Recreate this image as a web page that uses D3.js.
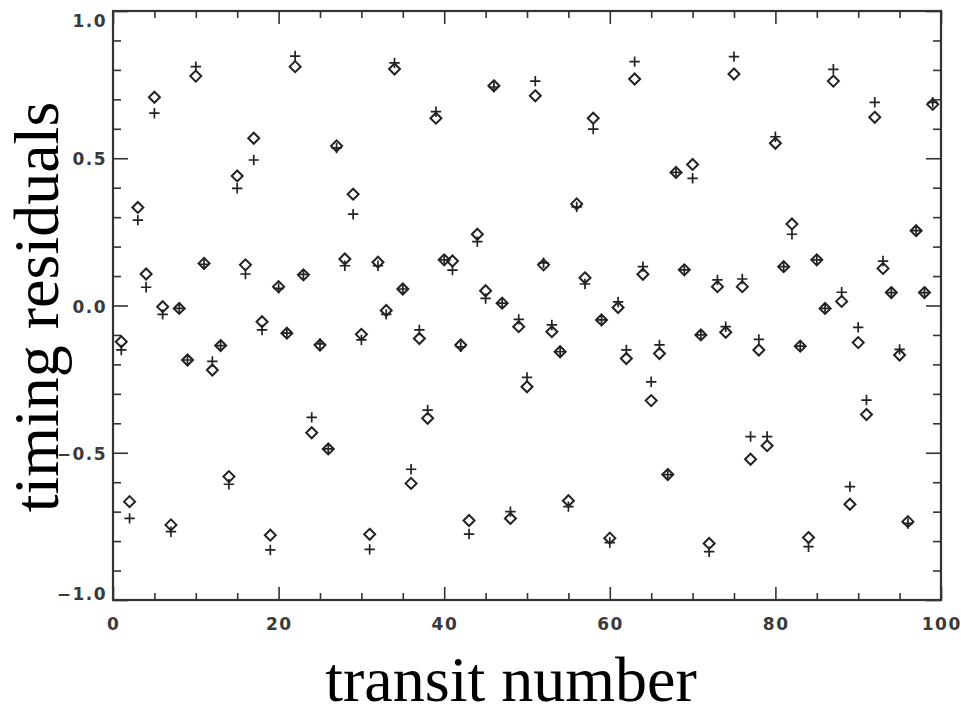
<!DOCTYPE html>
<html>
<head>
<meta charset="utf-8">
<script src="https://cdn.jsdelivr.net/npm/d3@7/dist/d3.min.js"></script>
<style>
  html, body { margin: 0; padding: 0; background: #fff; }
  svg { display: block; }
  .tick-label { font-family: "DejaVu Sans", sans-serif; font-size: 17px; font-weight: bold; fill: #3a3a3a; letter-spacing: 1.5px; }
  .title { font-family: "Liberation Serif", "Times New Roman", serif; font-size: 64px; fill: #000; }
</style>
</head>
<body>
<script>
// Transit index for each measured transit
const transits = d3.range(1, 100);

// Residuals from the first fit (diamonds)
const residualsA = [
  -0.123, -0.666, 0.333, 0.107, 0.707, -0.004, -0.745, -0.010, -0.185, 0.779,
  0.143, -0.219, -0.136, -0.581, 0.440, 0.138, 0.568, -0.055, -0.780, 0.064,
  -0.094, 0.811, 0.104, -0.432, -0.134, -0.487, 0.542, 0.158, 0.378, -0.098,
  -0.777, 0.147, -0.017, 0.803, 0.056, -0.604, -0.112, -0.383, 0.636, 0.155,
  0.151, -0.134, -0.730, 0.242, 0.050, 0.746, 0.008, -0.723, -0.072, -0.276,
  0.712, 0.138, -0.089, -0.157, -0.663, 0.345, 0.094, 0.636, -0.049, -0.790,
  -0.007, -0.180, 0.769, 0.106, -0.323, -0.163, -0.574, 0.452, 0.121, 0.479,
  -0.100, -0.808, 0.064, -0.091, 0.786, 0.064, -0.522, -0.151, -0.476, 0.551,
  0.132, 0.277, -0.138, -0.788, 0.155, -0.010, 0.762, 0.014, -0.675, -0.126,
  -0.370, 0.639, 0.126, 0.044, -0.168, -0.734, 0.254, 0.044, 0.683
];

// Residuals from the second fit (plus signs)
const residualsB = [
  -0.151, -0.723, 0.290, 0.062, 0.653, -0.030, -0.768, -0.010, -0.185, 0.811,
  0.140, -0.190, -0.136, -0.607, 0.398, 0.107, 0.494, -0.083, -0.830, 0.058,
  -0.094, 0.847, 0.106, -0.380, -0.130, -0.487, 0.535, 0.135, 0.310, -0.117,
  -0.828, 0.135, -0.030, 0.824, 0.056, -0.556, -0.083, -0.355, 0.658, 0.155,
  0.120, -0.140, -0.776, 0.217, 0.024, 0.742, 0.008, -0.700, -0.047, -0.244,
  0.762, 0.145, -0.066, -0.157, -0.683, 0.335, 0.073, 0.599, -0.049, -0.805,
  0.012, -0.151, 0.828, 0.132, -0.259, -0.134, -0.574, 0.452, 0.121, 0.432,
  -0.100, -0.836, 0.087, -0.072, 0.845, 0.090, -0.445, -0.115, -0.445, 0.573,
  0.132, 0.242, -0.138, -0.819, 0.155, -0.010, 0.802, 0.045, -0.615, -0.074,
  -0.321, 0.690, 0.151, 0.044, -0.149, -0.740, 0.254, 0.044, 0.690
];

// Axis ticks
const xMajorTicks = [0, 20, 40, 60, 80, 100];
const xMinorTicks = d3.range(0, 101, 5).filter(v => v % 20 !== 0);
const yMajorTicks = [-1.0, -0.5, 0.0, 0.5, 1.0];
const yMinorTicks = d3.range(-9, 10).map(v => v / 10).filter(v => Math.abs(v * 2 - Math.round(v * 2)) > 1e-6);
const xTickLabels = ["0", "20", "40", "60", "80", "100"];
const yTickLabels = ["\u22121.0", "\u22120.5", "0.0", "0.5", "1.0"];

const W = 961, H = 708;
const margin = { left: 113, right: 20, top: 11, bottom: 108 };

const svg = d3.select("body").append("svg").attr("width", W).attr("height", H);

const x = d3.scaleLinear().domain([0, 100]).range([margin.left, W - margin.right]);
const y = d3.scaleLinear().domain([-1, 1]).range([H - margin.bottom, margin.top]);

const ink = "#222";

// Ticks on all four sides, pointing inward
function tickAxis(axisFn, scale, values, size, transform) {
  const g = svg.append("g").attr("transform", transform)
    .call(axisFn(scale).tickValues(values).tickSizeInner(size).tickSizeOuter(0).tickFormat(""));
  g.select(".domain").remove();
  g.selectAll(".tick line").attr("stroke", "#333").attr("stroke-width", 1.6);
}
const x0 = margin.left, x1 = W - margin.right, y0 = margin.top, y1 = H - margin.bottom;
tickAxis(d3.axisBottom, x, xMajorTicks, -13, `translate(0,${y1})`);
tickAxis(d3.axisBottom, x, xMinorTicks, -7, `translate(0,${y1})`);
tickAxis(d3.axisTop, x, xMajorTicks, -13, `translate(0,${y0})`);
tickAxis(d3.axisTop, x, xMinorTicks, -7, `translate(0,${y0})`);
tickAxis(d3.axisLeft, y, yMajorTicks, -15, `translate(${x0},0)`);
tickAxis(d3.axisLeft, y, yMinorTicks, -8, `translate(${x0},0)`);
tickAxis(d3.axisRight, y, yMajorTicks, -15, `translate(${x1},0)`);
tickAxis(d3.axisRight, y, yMinorTicks, -8, `translate(${x1},0)`);

// Plot frame
svg.append("rect")
  .attr("x", x0).attr("y", y0).attr("width", x1 - x0).attr("height", y1 - y0)
  .attr("fill", "none").attr("stroke", "#333").attr("stroke-width", 2.2);

// Tick labels
svg.append("g").selectAll("text").data(xMajorTicks).join("text")
  .attr("class", "tick-label")
  .attr("x", d => x(d) + 0.75)
  .attr("y", y1 + 30)
  .attr("text-anchor", "middle")
  .text((d, i) => xTickLabels[i]);

svg.append("g").selectAll("text").data(yMajorTicks).join("text")
  .attr("class", "tick-label")
  .attr("x", x0 - 6)
  .attr("y", d => Math.min(Math.max(y(d), y0 + 9), y1 - 7) + 7)
  .attr("text-anchor", "end")
  .text((d, i) => yTickLabels[i]);

// Diamonds
const plot = svg.append("g");
const dr = 5.5;
plot.selectAll("path.diamond").data(transits).join("path")
  .attr("class", "diamond")
  .attr("d", (d, i) => {
    const cx = x(d), cy = y(residualsA[i]);
    return `M${cx},${cy - dr}L${cx + dr},${cy}L${cx},${cy + dr}L${cx - dr},${cy}Z`;
  })
  .attr("fill", "none").attr("stroke", ink).attr("stroke-width", 2);

// Plus signs
const pr = 5.2;
plot.selectAll("path.plus").data(transits).join("path")
  .attr("class", "plus")
  .attr("d", (d, i) => {
    const cx = x(d), cy = y(residualsB[i]);
    return `M${cx - pr},${cy}H${cx + pr}M${cx},${cy - pr}V${cy + pr}`;
  })
  .attr("fill", "none").attr("stroke", ink).attr("stroke-width", 1.7);

// Axis titles
svg.append("text").attr("class", "title")
  .attr("x", 511).attr("y", 701)
  .attr("text-anchor", "middle")
  .text("transit number");

svg.append("text").attr("class", "title")
  .attr("transform", "translate(58,307) rotate(-90)")
  .attr("text-anchor", "middle")
  .text("timing residuals");
</script>
</body>
</html>
